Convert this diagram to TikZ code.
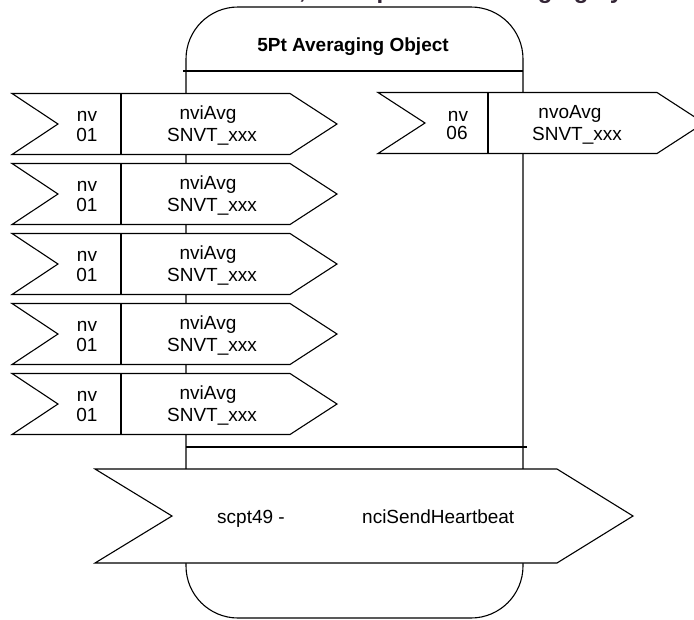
\documentclass[tikz,border=0pt]{standalone}
\usepackage{fontspec}
\setmainfont{Liberation Sans}

\definecolor{headtext}{RGB}{52,38,54}

\begin{document}
\begin{tikzpicture}[
    x=1pt, y=-1pt,
    outline/.style={draw, line width=1.1pt},
    flag/.style={draw, fill=white, line width=1.1pt},
    lbl/.style={font=\fontsize{19}{22}\selectfont, inner sep=0pt, anchor=base},
    titlelbl/.style={font=\fontsize{19}{22}\selectfont\bfseries, inner sep=0pt},
]

% Page size
\useasboundingbox (0,0) rectangle (694,619);
\clip (0,0) rectangle (694,619);

% === Cut-off heading above the object ===
\node[font=\fontsize{24}{28}\selectfont\bfseries, text=headtext, anchor=base west, inner sep=0pt] (heading) at (299,-2) {, Example: 5Pt Averaging by};

% === Object body ===
\draw[outline, rounded corners=52pt] (186,7) rectangle (523,618);
\node[titlelbl] (title) at (353,47) {5Pt Averaging Object};
\draw[outline] (183,71) -- (523,71);
\draw[outline] (186,447) -- (527,447);

% === Inputs ===
% Input 1
\pgfmathsetmacro{\ra}{93.5}
\draw[flag] (12,\ra) -- (290,\ra) -- (337,\ra+30.5) -- (290,\ra+61) -- (12,\ra+61) -- (58,\ra+30.5) -- cycle;
\draw[outline] (121,\ra) -- (121,\ra+61);
\node[lbl] (nvA) at (87,\ra+28) {nv};
\node[lbl] (idA) at (87,\ra+48) {01};
\node[lbl] (nameA) at (208,\ra+26) {nviAvg};
\node[lbl] (typeA) at (212,\ra+48) {SNVT\_xxx};

% Input 2
\pgfmathsetmacro{\rb}{163.5}
\draw[flag] (12,\rb) -- (290,\rb) -- (337,\rb+30.5) -- (290,\rb+61) -- (12,\rb+61) -- (58,\rb+30.5) -- cycle;
\draw[outline] (121,\rb) -- (121,\rb+61);
\node[lbl] (nvB) at (87,\rb+28) {nv};
\node[lbl] (idB) at (87,\rb+48) {01};
\node[lbl] (nameB) at (208,\rb+26) {nviAvg};
\node[lbl] (typeB) at (212,\rb+48) {SNVT\_xxx};

% Input 3
\pgfmathsetmacro{\rc}{233.5}
\draw[flag] (12,\rc) -- (290,\rc) -- (337,\rc+30.5) -- (290,\rc+61) -- (12,\rc+61) -- (58,\rc+30.5) -- cycle;
\draw[outline] (121,\rc) -- (121,\rc+61);
\node[lbl] (nvC) at (87,\rc+28) {nv};
\node[lbl] (idC) at (87,\rc+48) {01};
\node[lbl] (nameC) at (208,\rc+26) {nviAvg};
\node[lbl] (typeC) at (212,\rc+48) {SNVT\_xxx};

% Input 4
\pgfmathsetmacro{\rd}{303.5}
\draw[flag] (12,\rd) -- (290,\rd) -- (337,\rd+30.5) -- (290,\rd+61) -- (12,\rd+61) -- (58,\rd+30.5) -- cycle;
\draw[outline] (121,\rd) -- (121,\rd+61);
\node[lbl] (nvD) at (87,\rd+28) {nv};
\node[lbl] (idD) at (87,\rd+48) {01};
\node[lbl] (nameD) at (208,\rd+26) {nviAvg};
\node[lbl] (typeD) at (212,\rd+48) {SNVT\_xxx};

% Input 5
\pgfmathsetmacro{\re}{373.5}
\draw[flag] (12,\re) -- (290,\re) -- (337,\re+30.5) -- (290,\re+61) -- (12,\re+61) -- (58,\re+30.5) -- cycle;
\draw[outline] (121,\re) -- (121,\re+61);
\node[lbl] (nvE) at (87,\re+28) {nv};
\node[lbl] (idE) at (87,\re+48) {01};
\node[lbl] (nameE) at (208,\re+26) {nviAvg};
\node[lbl] (typeE) at (212,\re+48) {SNVT\_xxx};

% === Output ===
\pgfmathsetmacro{\ro}{92.5}
\draw[flag] (378,\ro) -- (657,\ro) -- (704,\ro+30.5) -- (657,\ro+61) -- (378,\ro+61) -- (425,\ro+30.5) -- cycle;
\draw[outline] (488,\ro) -- (488,\ro+61);
\node[lbl] (nvO) at (458,\ro+29) {nv};
\node[lbl] (idO) at (457,\ro+47) {06};
\node[lbl] (nameO) at (570,\ro+26) {nvoAvg};
\node[lbl] (typeO) at (577,\ro+48) {SNVT\_xxx};

% === Configuration property ===
\draw[flag] (95,469) -- (557,469) -- (633,516) -- (557,563) -- (95,563) -- (172,516) -- cycle;
\node[lbl, anchor=base west] (scpt) at (217,523) {scpt49 -};
\node[lbl, anchor=base west] (heartbeat) at (362,523) {nciSendHeartbeat};

\end{tikzpicture}
\end{document}
